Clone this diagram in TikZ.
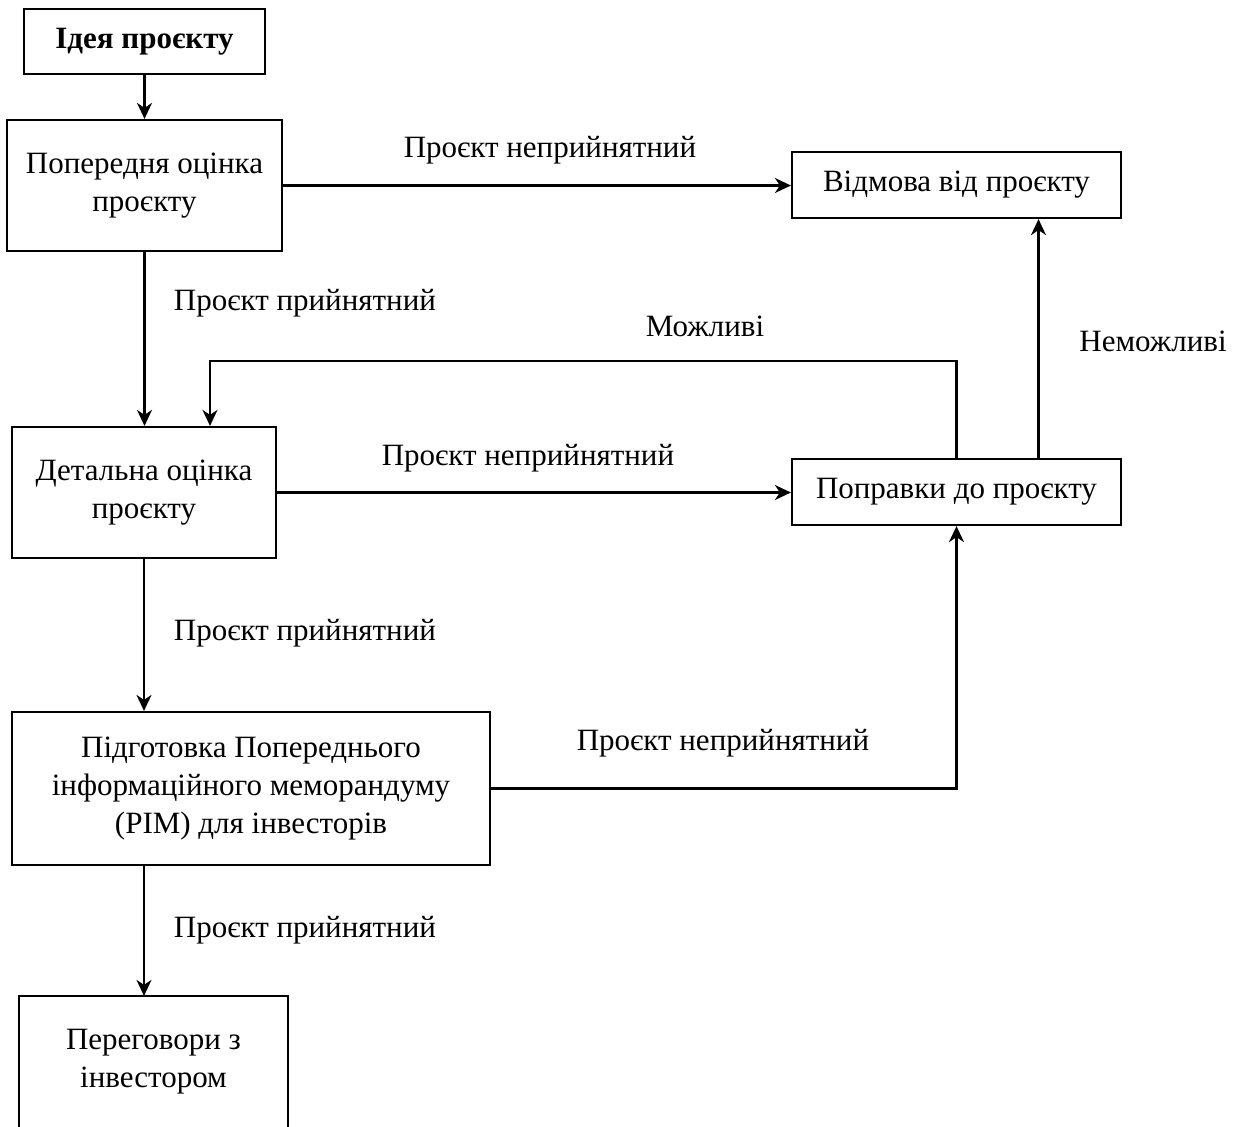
\documentclass[tikz,border=0pt]{standalone}
\usepackage{fontspec}
\setmainfont{Liberation Serif}
\usetikzlibrary{arrows.meta}
\begin{document}
\begin{tikzpicture}[x=0.5pt,y=-0.5pt,
  box/.style={draw,line width=1.1pt,rectangle,align=center,inner sep=0pt,
    font=\fontsize{15.5}{19}\selectfont},
  lbl/.style={font=\fontsize{15.5}{19}\selectfont,inner sep=0pt},
  arr/.style={line width=1.1pt,-{Stealth[length=8pt,width=7.5pt,inset=2.5pt]}}]
\useasboundingbox (0,0) rectangle (1243,1126);
\clip (0,0) rectangle (1243,1126);
% boxes
\node[box,minimum width=120.5pt,minimum height=32.5pt] (idea) at (144.5,41.5) {\textbf{Ідея проєкту}};
\node[box,minimum width=137.5pt,minimum height=65.5pt] (pre) at (144.5,185.5) {Попередня оцінка\\проєкту};
\node[box,minimum width=164.5pt,minimum height=33pt] (vid) at (956.5,185) {Відмова від проєкту};
\node[box,minimum width=132pt,minimum height=65.5pt] (det) at (144,492.5) {Детальна оцінка\\проєкту};
\node[box,minimum width=164.5pt,minimum height=33pt] (pop) at (956.5,492) {Поправки до проєкту};
\node[box,minimum width=239pt,minimum height=76.5pt] (pim) at (251,788.5) {Підготовка Попереднього\\інформаційного меморандуму\\(PIM) для інвесторів};
% the last box runs on past the lower edge
\node[box,draw=none,minimum width=133.5pt,minimum height=65pt] (per) at (153.5,1062) {Переговори з\\інвестором};
\draw[line width=1.1pt] (per.south west) -- (per.north west) -- (per.north east) -- (per.south east) -- ([yshift=-10pt]per.south east) -- ([yshift=-10pt]per.south west) -- cycle;
% connectors
\draw[arr] (idea.south) -- (idea.south |- pre.north);
\draw[arr] (pre.east) -- (pre.east -| vid.west);
\draw[arr] (pre.south) -- (pre.south |- det.north);
\draw[arr] (det.east) -- (det.east -| pop.west);
\coordinate (loopL) at (210,361);
\draw[arr] (pop.north) |- (loopL) -- (loopL |- det.north);
\draw[arr] ([xshift=41pt]pop.north) -- ([xshift=41pt]vid.south);
\draw[arr] (det.south) -- (det.south |- pim.north);
\draw[arr] (pim.east) -| (pop.south);
\draw[arr] (pim.south -| det.south) -- (det.south |- per.north);
% labels
\node[lbl] (l1) at (550,150) {Проєкт неприйнятний};
\node[lbl] (l2) at (305,303) {Проєкт прийнятний};
\node[lbl] (l3) at (705,326) {Можливі};
\node[lbl] (l4) at (1153,341) {Неможливі};
\node[lbl] (l5) at (528,458) {Проєкт неприйнятний};
\node[lbl] (l6) at (305,633) {Проєкт прийнятний};
\node[lbl] (l7) at (723,743) {Проєкт неприйнятний};
\node[lbl] (l8) at (305,930) {Проєкт прийнятний};
\end{tikzpicture}
\end{document}
